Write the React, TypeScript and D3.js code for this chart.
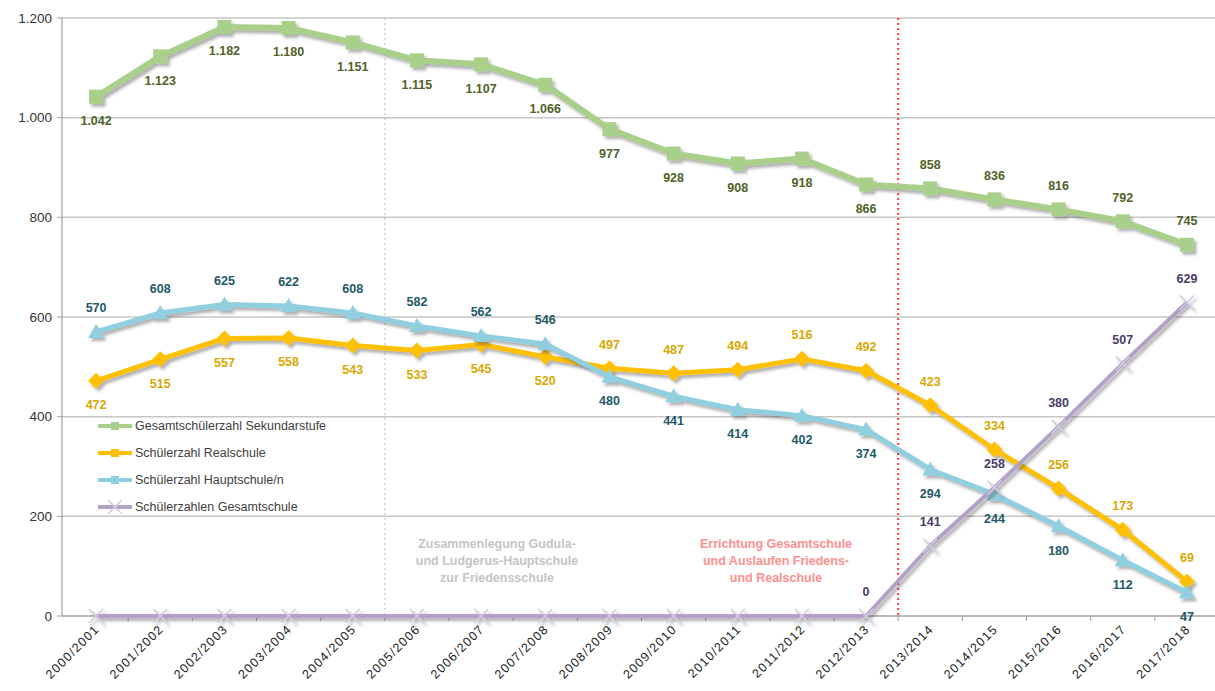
import { useMemo } from "react";
import * as d3 from "d3";

const years = [
  "2000/2001", "2001/2002", "2002/2003", "2003/2004", "2004/2005", "2005/2006",
  "2006/2007", "2007/2008", "2008/2009", "2009/2010", "2010/2011", "2011/2012",
  "2012/2013", "2013/2014", "2014/2015", "2015/2016", "2016/2017", "2017/2018",
];

const gesamtSek = [1042, 1123, 1182, 1180, 1151, 1115, 1107, 1066, 977, 928, 908, 918, 866, 858, 836, 816, 792, 745];
const realschule = [472, 515, 557, 558, 543, 533, 545, 520, 497, 487, 494, 516, 492, 423, 334, 256, 173, 69];
const hauptschule = [570, 608, 625, 622, 608, 582, 562, 546, 480, 441, 414, 402, 374, 294, 244, 180, 112, 47];
const gesamtschule = [0, 0, 0, 0, 0, 0, 0, 0, 0, 0, 0, 0, 0, 141, 258, 380, 507, 629];

const yTicks = [0, 200, 400, 600, 800, 1000, 1200];

// label placement: 1 = above, -1 = below, 0 = none
const gesamtSekPos = [-1, -1, -1, -1, -1, -1, -1, -1, -1, -1, -1, -1, -1, 1, 1, 1, 1, 1];
const realPos = [-1, -1, -1, -1, -1, -1, -1, -1, 1, 1, 1, 1, 1, 1, 1, 1, 1, 1];
const hauptPos = [1, 1, 1, 1, 1, 1, 1, 1, -1, -1, -1, -1, -1, -1, -1, -1, -1, -1];
const gesamtPos = [0, 0, 0, 0, 0, 0, 0, 0, 0, 0, 0, 0, 1, 1, 1, 1, 1, 1];

type Marker = "square" | "diamond" | "triangle" | "cross";

const series = [
  { name: "Gesamtschülerzahl Sekundarstufe", values: gesamtSek, pos: gesamtSekPos, color: "#a9d08a", label: "#4f6228", marker: "square" as Marker, width: 6 },
  { name: "Schülerzahl Realschule", values: realschule, pos: realPos, color: "#ffc000", label: "#d9a800", marker: "diamond" as Marker, width: 5 },
  { name: "Schülerzahl Hauptschule/n", values: hauptschule, pos: hauptPos, color: "#8fcfdf", label: "#215968", marker: "triangle" as Marker, width: 5 },
  { name: "Schülerzahlen Gesamtschule", values: gesamtschule, pos: gesamtPos, color: "#b3a2c7", label: "#4b3b68", marker: "cross" as Marker, width: 4 },
];

const W = 1215;
const H = 691;
const fmt = (v: number) => d3.format(",")(v).replace(/,/g, ".");

function MarkerShape({ type, x, y, color }: { type: Marker; x: number; y: number; color: string }) {
  if (type === "square") return <rect x={x - 7} y={y - 7} width={14} height={14} fill={color} />;
  if (type === "diamond") return <path d={`M${x},${y - 8}L${x + 8},${y}L${x},${y + 8}L${x - 8},${y}Z`} fill={color} />;
  if (type === "triangle") return <path d={`M${x},${y - 8}L${x + 8},${y + 6}L${x - 8},${y + 6}Z`} fill={color} />;
  return (
    <path d={`M${x - 7},${y - 7}L${x + 7},${y + 7}M${x + 7},${y - 7}L${x - 7},${y + 7}`} stroke="#d3cae0" strokeWidth={1.5} />
  );
}

export default function App() {
  const x = useMemo(() => d3.scaleBand<string>().domain(years).range([64, 1219]), []);
  const y = useMemo(() => d3.scaleLinear().domain([0, 1200]).range([616, 18]), []);
  const cx = (i: number) => (x(years[i]) ?? 0) + x.bandwidth() / 2;
  const line = d3.line<number>().x((_, i) => cx(i)).y((d) => y(d));
  const font = "Arial, 'Liberation Sans', sans-serif";

  return (
    <svg width={W} height={H} style={{ position: "absolute", left: 0, top: 0, background: "#fff" }} fontFamily={font}>
      <defs>
        <filter id="shadow" x="-5%" y="-5%" width="110%" height="120%">
          <feDropShadow dx={2.5} dy={3} stdDeviation={1.5} floodColor="#444" floodOpacity={0.42} />
        </filter>
      </defs>

      {/* gridlines */}
      {yTicks.filter((t) => t > 0).map((t) => (
        <line key={t} x1={62} x2={W} y1={y(t)} y2={y(t)} stroke="#c6c6c6" strokeWidth={1.5} />
      ))}
      {/* axes */}
      <line x1={62} x2={62} y1={y(1200)} y2={y(0)} stroke="#a0a0a0" strokeWidth={1.2} />
      <line x1={62} x2={W} y1={y(0)} y2={y(0)} stroke="#a0a0a0" strokeWidth={1.5} />
      {yTicks.map((t) => (
        <g key={t}>
          <line x1={57} x2={62} y1={y(t)} y2={y(t)} stroke="#a0a0a0" />
          <text x={52} y={y(t)} dy="0.35em" textAnchor="end" fontSize={13.5} fill="#333">{fmt(t)}</text>
        </g>
      ))}
      {years.map((yr, i) => (
        <g key={yr}>
          <line x1={x(yr)! + x.bandwidth()} x2={x(yr)! + x.bandwidth()} y1={616} y2={621} stroke="#a0a0a0" />
          <text
            transform={`translate(${cx(i) + 4},${630}) rotate(-45)`}
            textAnchor="end"
            fontSize={12.5}
            letterSpacing={1.2}
            fill="#222"
          >
            {yr}
          </text>
        </g>
      ))}

      {/* event lines */}
      <line x1={x(years[5])!} x2={x(years[5])!} y1={18} y2={616} stroke="#bcbcbc" strokeWidth={1} strokeDasharray="2,3" />
      <line x1={x(years[13])!} x2={x(years[13])!} y1={18} y2={616} stroke="#ff3b3b" strokeWidth={2} strokeDasharray="2,3" />

      {/* annotations */}
      <text x={497} y={548} textAnchor="middle" fontSize={12.5} fontWeight="bold" fill="#c4c4c4">
        <tspan x={497} dy={0}>Zusammenlegung Gudula-</tspan>
        <tspan x={497} dy={17}>und Ludgerus-Hauptschule</tspan>
        <tspan x={497} dy={17}>zur Friedensschule</tspan>
      </text>
      <text x={776} y={548} textAnchor="middle" fontSize={12.5} fontWeight="bold" fill="#ff8f8f">
        <tspan x={776} dy={0}>Errichtung Gesamtschule</tspan>
        <tspan x={776} dy={17}>und Auslaufen Friedens-</tspan>
        <tspan x={776} dy={17}>und Realschule</tspan>
      </text>

      {/* series */}
      {series.map((s) => (
        <g key={s.name} filter="url(#shadow)">
          <path d={line(s.values) ?? ""} fill="none" stroke={s.color} strokeWidth={s.width} strokeLinejoin="round" />
          {s.values.map((v, i) => (
            <MarkerShape key={i} type={s.marker} x={cx(i)} y={y(v)} color={s.color} />
          ))}
        </g>
      ))}

      {/* data labels */}
      {series.map((s) =>
        s.values.map((v, i) =>
          s.pos[i] === 0 ? null : (
            <text
              key={s.name + i}
              x={cx(i)}
              y={y(v) - s.pos[i] * 24}
              dy="0.35em"
              textAnchor="middle"
              fontSize={12.5}
              fontWeight="bold"
              fill={s.label}
            >
              {fmt(v)}
            </text>
          ),
        ),
      )}

      {/* legend */}
      <g>
        {series.map((s, i) => {
          const ly = 426 + i * 27;
          return (
            <g key={s.name}>
              <line x1={98} x2={132} y1={ly} y2={ly} stroke={s.color} strokeWidth={4} />
              {s.marker === "cross" ? (
                <MarkerShape type="cross" x={115} y={ly} color={s.color} />
              ) : (
                <rect x={111} y={ly - 4} width={8} height={8} fill={s.color} />
              )}
              <text x={135} y={ly} dy="0.35em" fontSize={12.5} fill="#404040">{s.name}</text>
            </g>
          );
        })}
      </g>
    </svg>
  );
}
